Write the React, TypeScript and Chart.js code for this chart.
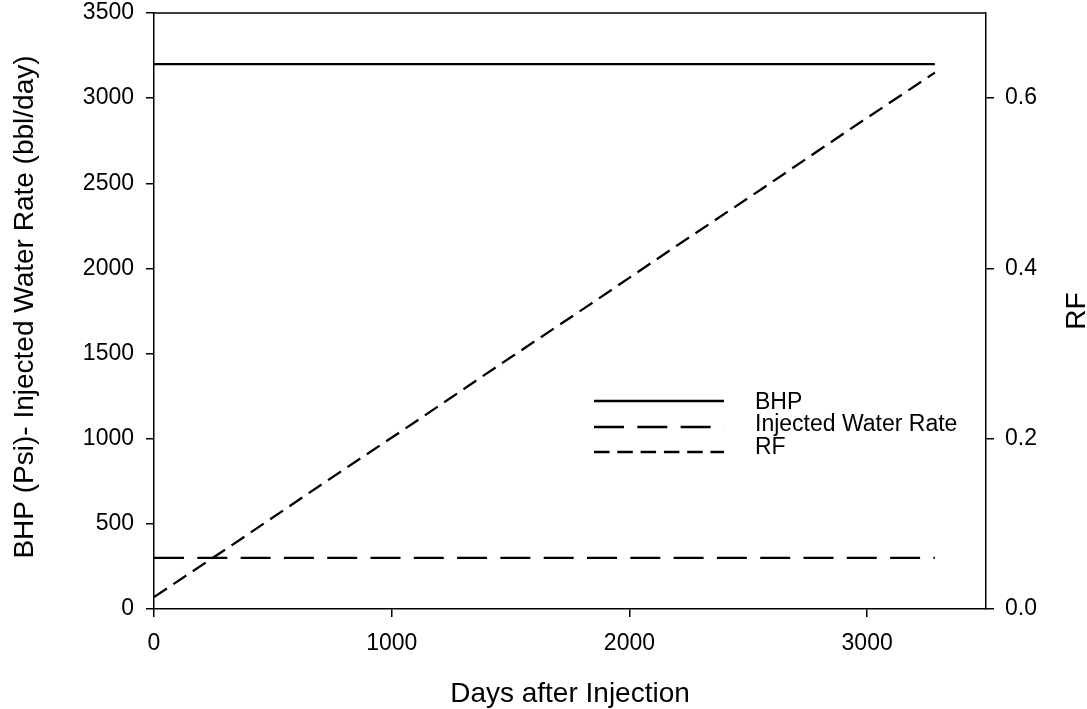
import { useEffect, useRef } from "react";
import { Chart, registerables } from "chart.js";

Chart.register(...registerables);

// Injection history: one point per year of injection
const days = [0, 365, 730, 1095, 1460, 1825, 2190, 2555, 2920, 3285];
const bhpPsi = [3200, 3200, 3200, 3200, 3200, 3200, 3200, 3200, 3200, 3200];
const injectedWaterRate = [300, 300, 300, 300, 300, 300, 300, 300, 300, 300];
const recoveryFactor = [0.014, 0.082, 0.151, 0.219, 0.288, 0.356, 0.425, 0.493, 0.562, 0.63];

const seriesLabels = ["BHP", "Injected Water Rate", "RF"];
const xTicks = [0, 1000, 2000, 3000];
const leftTicks = [0, 500, 1000, 1500, 2000, 2500, 3000, 3500];
const rightTicks = [0, 0.2, 0.4, 0.6];
const xTitle = "Days after Injection";
const leftTitle = "BHP (Psi)- Injected Water Rate (bbl/day)";
const rightTitle = "RF";

const FONT = '"Liberation Sans", Arial, Helvetica, sans-serif';
const AXIS_W = 1.5;

const toPoints = (ys: number[]) => days.map((d, i) => ({ x: d, y: ys[i] }));

// Closes the frame, writes the axis titles and the in-plot legend
const decorPlugin = {
  id: "decor",
  afterDraw(chart: any) {
    const { ctx, chartArea: a } = chart;
    ctx.save();
    ctx.strokeStyle = "#000";
    ctx.lineWidth = AXIS_W;
    ctx.beginPath();
    ctx.moveTo(a.left, a.top);
    ctx.lineTo(a.right, a.top);
    ctx.stroke();

    ctx.fillStyle = "#000";
    ctx.font = `28px ${FONT}`;
    ctx.textAlign = "center";
    ctx.textBaseline = "alphabetic";
    ctx.fillText(xTitle, (a.left + a.right) / 2, a.bottom + 93);

    ctx.save();
    ctx.translate(33, a.top + 294);
    ctx.rotate(-Math.PI / 2);
    ctx.fillText(leftTitle, 0, 0);
    ctx.restore();

    ctx.save();
    ctx.translate(a.right + 99, a.top + 298);
    ctx.rotate(-Math.PI / 2);
    ctx.fillText(rightTitle, 0, 0);
    ctx.restore();

    // legend
    const lineX0 = a.left + 440;
    const lineX1 = a.left + 570;
    const textX = a.left + 601;
    const lineYs = [a.top + 388, a.top + 414, a.top + 439];
    const textYs = [a.top + 396, a.top + 418, a.top + 441];
    ctx.font = `23px ${FONT}`;
    ctx.textAlign = "left";
    chart.data.datasets.forEach((ds: any, i: number) => {
      ctx.beginPath();
      ctx.setLineDash(ds.borderDash || []);
      ctx.lineWidth = ds.borderWidth;
      ctx.strokeStyle = ds.borderColor;
      ctx.moveTo(lineX0, lineYs[i]);
      ctx.lineTo(lineX1, lineYs[i]);
      ctx.stroke();
      ctx.setLineDash([]);
      ctx.fillText(ds.label, textX, textYs[i]);
    });
    ctx.restore();
  },
};

const tickFont = { family: FONT, size: 23 };

const axisCommon = {
  grid: {
    drawOnChartArea: false,
    drawTicks: true,
    tickLength: 8,
    color: "#000",
    lineWidth: AXIS_W,
  },
  border: { display: true, color: "#000", width: AXIS_W },
};

const setTicks = (values: number[]) => (s: any) => {
  s.ticks = values.map((v) => ({ value: v }));
};

export default function App() {
  const canvasRef = useRef<HTMLCanvasElement | null>(null);

  useEffect(() => {
    const canvas = canvasRef.current;
    if (!canvas) return;
    const chart = new Chart(canvas, {
      type: "line",
      data: {
        datasets: [
          {
            label: seriesLabels[0],
            data: toPoints(bhpPsi),
            yAxisID: "y",
            borderColor: "#000",
            borderWidth: 2.3,
            pointRadius: 0,
            fill: false,
            tension: 0,
          },
          {
            label: seriesLabels[1],
            data: toPoints(injectedWaterRate),
            yAxisID: "y",
            borderColor: "#000",
            borderWidth: 2.3,
            borderDash: [30, 13.3],
            pointRadius: 0,
            fill: false,
            tension: 0,
          },
          {
            label: seriesLabels[2],
            data: toPoints(recoveryFactor),
            yAxisID: "y1",
            borderColor: "#000",
            borderWidth: 2.3,
            borderDash: [15.5, 7.8],
            pointRadius: 0,
            fill: false,
            tension: 0,
          },
        ],
      },
      options: {
        responsive: false,
        animation: false,
        layout: { padding: 0 },
        plugins: {
          legend: { display: false },
          tooltip: { enabled: false },
        },
        scales: {
          x: {
            type: "linear",
            position: "bottom",
            min: 0,
            max: 3500,
            afterBuildTicks: setTicks(xTicks),
            ticks: {
              color: "#000",
              font: tickFont,
              padding: 13,
              maxRotation: 0,
              autoSkip: false,
              callback: (v: any) => String(v),
            },
            ...axisCommon,
            afterFit: (s: any) => {
              s.height = 100;
              s.paddingLeft = 0;
              s.paddingRight = 0;
            },
          },
          y: {
            type: "linear",
            position: "left",
            min: 0,
            max: 3500,
            afterBuildTicks: setTicks(leftTicks),
            ticks: {
              color: "#000",
              font: tickFont,
              padding: 12,
              autoSkip: false,
              callback: (v: any) => String(v),
            },
            ...axisCommon,
            afterFit: (s: any) => {
              s.width = 154;
              s.paddingTop = 13;
              s.paddingBottom = 0;
            },
          },
          y1: {
            type: "linear",
            position: "right",
            min: 0,
            max: 0.7,
            afterBuildTicks: setTicks(rightTicks),
            ticks: {
              color: "#000",
              font: tickFont,
              padding: 11,
              autoSkip: false,
              callback: (v: any) => Number(v).toFixed(1),
            },
            ...axisCommon,
            afterFit: (s: any) => {
              s.width = 101;
              s.paddingTop = 13;
              s.paddingBottom = 0;
            },
          },
        },
      },
      plugins: [decorPlugin],
    });
    return () => chart.destroy();
  }, []);

  return (
    <div
      style={{
        position: "fixed",
        left: 0,
        top: 0,
        width: 1087,
        height: 709,
        background: "#fff",
      }}
    >
      <canvas ref={canvasRef} width={1087} height={709} style={{ display: "block" }} />
    </div>
  );
}
